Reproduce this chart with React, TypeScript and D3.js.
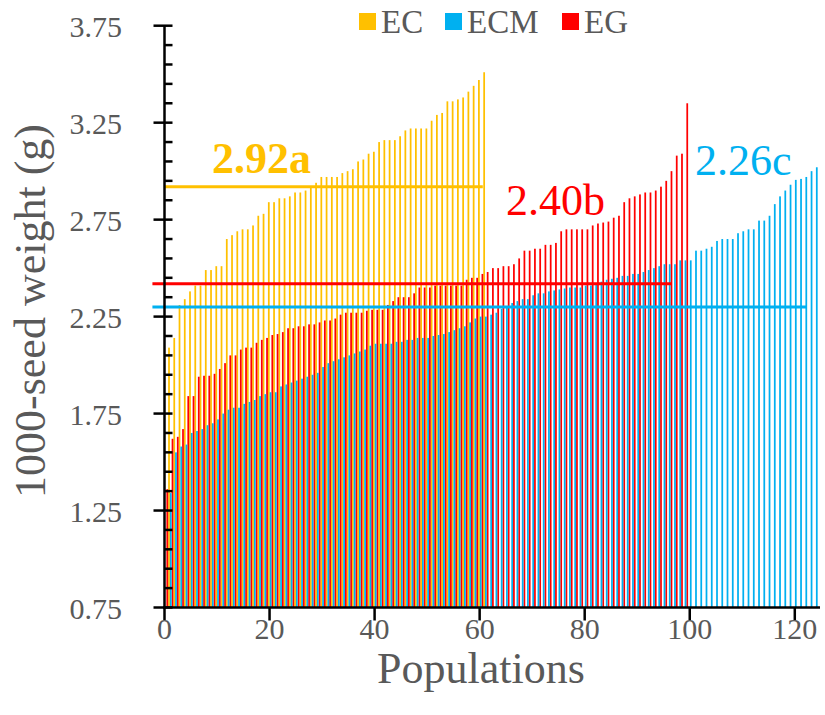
import React from "react";
import * as d3 from "d3";

const EC = [2.09, 2.14, 2.31, 2.34, 2.38, 2.41, 2.41, 2.49, 2.49, 2.51, 2.51, 2.65, 2.67, 2.69, 2.70, 2.70, 2.72, 2.77, 2.78, 2.84, 2.84, 2.86, 2.86, 2.87, 2.89, 2.89, 2.90, 2.92, 2.94, 2.97, 2.97, 2.97, 2.97, 2.99, 3.00, 3.01, 3.05, 3.06, 3.09, 3.10, 3.15, 3.16, 3.16, 3.16, 3.18, 3.21, 3.22, 3.22, 3.22, 3.22, 3.26, 3.29, 3.30, 3.36, 3.36, 3.37, 3.38, 3.41, 3.44, 3.47, 3.51];

const EG = [1.36, 1.62, 1.63, 1.67, 1.84, 1.84, 1.94, 1.945, 1.945, 1.955, 1.98, 2.01, 2.05, 2.05, 2.08, 2.09, 2.09, 2.115, 2.13, 2.14, 2.155, 2.16, 2.17, 2.19, 2.19, 2.20, 2.20, 2.21, 2.21, 2.22, 2.23, 2.23, 2.24, 2.26, 2.27, 2.27, 2.27, 2.27, 2.28, 2.285, 2.285, 2.285, 2.31, 2.33, 2.35, 2.35, 2.35, 2.37, 2.40, 2.40, 2.40, 2.41, 2.41, 2.41, 2.41, 2.41, 2.41, 2.44, 2.45, 2.45, 2.47, 2.48, 2.50, 2.50, 2.51, 2.51, 2.52, 2.55, 2.59, 2.59, 2.60, 2.60, 2.62, 2.62, 2.63, 2.69, 2.70, 2.70, 2.70, 2.70, 2.70, 2.72, 2.73, 2.735, 2.74, 2.76, 2.77, 2.84, 2.86, 2.87, 2.88, 2.89, 2.89, 2.90, 2.92, 2.95, 3.00, 3.08, 3.09, 3.35];

const ECM = [1.34, 1.55, 1.58, 1.59, 1.65, 1.66, 1.67, 1.69, 1.70, 1.72, 1.75, 1.77, 1.78, 1.78, 1.80, 1.81, 1.82, 1.84, 1.85, 1.86, 1.86, 1.89, 1.90, 1.91, 1.92, 1.93, 1.94, 1.95, 1.96, 1.99, 2.01, 2.02, 2.03, 2.04, 2.05, 2.06, 2.07, 2.08, 2.10, 2.11, 2.11, 2.11, 2.11, 2.12, 2.12, 2.13, 2.13, 2.14, 2.14, 2.14, 2.15, 2.155, 2.16, 2.17, 2.18, 2.19, 2.20, 2.22, 2.24, 2.25, 2.25, 2.26, 2.27, 2.29, 2.30, 2.32, 2.33, 2.34, 2.34, 2.36, 2.37, 2.37, 2.38, 2.385, 2.39, 2.395, 2.40, 2.40, 2.40, 2.41, 2.41, 2.42, 2.43, 2.44, 2.445, 2.45, 2.46, 2.46, 2.47, 2.47, 2.48, 2.49, 2.50, 2.51, 2.52, 2.52, 2.52, 2.54, 2.54, 2.54, 2.59, 2.59, 2.60, 2.61, 2.64, 2.65, 2.65, 2.65, 2.68, 2.69, 2.70, 2.70, 2.745, 2.745, 2.77, 2.83, 2.87, 2.90, 2.93, 2.955, 2.96, 2.97, 3.00, 3.02];

const SERIES_NAMES = ["EC", "ECM", "EG"];
const SERIES_COLORS = ["#FFC000", "#00B0F0", "#FF0000"];

const MEAN_VALUES = [2.92, 2.30, 2.42];
const MEAN_LABELS = ["2.92a", "2.26c", "2.40b"];
const MEAN_START = [0, -2.3, -2.3];
const MEAN_END = [60.6, 122.3, 96.6];

const Y_MAJOR = [0.75, 1.25, 1.75, 2.25, 2.75, 3.25, 3.75];
const X_TICKS = [0, 20, 40, 60, 80, 100, 120];

const FONT = "'Liberation Serif', 'Times New Roman', serif";
const GRAY = "#595959";

export default function App() {
  const W = 825, H = 715;
  const x = d3.scaleLinear().domain([0, 124.8]).range([164.5, 820]);
  const y = d3.scaleLinear().domain([0.75, 3.75]).range([607.5, 25.7]);
  const bw = 1.75;
  const y0 = y(0.75);

  const minor = d3.range(0.85, 3.75, 0.1).filter(v => !Y_MAJOR.some(m => Math.abs(m - v) < 1e-6));

  const bars = (data: number[], off: number, color: string, key: string) =>
    data.map((v, i) => (
      <rect key={key + i} x={x(i + 1) + off - bw / 2} y={y(v)} width={bw} height={y0 - y(v)} fill={color} />
    ));

  const offsets = [-0.75, 1.0, -2.5];
  const axisX = x(0);
  const legendX = [359, 445, 562];
  const labelPos = [
    { x: 212, y: 173, weight: "bold" },
    { x: 695, y: 175, weight: "normal" },
    { x: 506, y: 215, weight: "normal" },
  ];

  return (
    <svg width={W} height={H} style={{ position: "absolute", left: 0, top: 0, background: "#fff" }}>
      <rect x={0} y={0} width={W} height={H} fill="#fff" />
      {bars(EC, offsets[0], SERIES_COLORS[0], "ec")}
      {bars(EG, offsets[2], SERIES_COLORS[2], "eg")}
      {bars(ECM, offsets[1], SERIES_COLORS[1], "ecm")}

      {[0, 2, 1].map(k => (
        <line key={"m" + k} x1={x(MEAN_START[k])} x2={x(MEAN_END[k])} y1={y(MEAN_VALUES[k])} y2={y(MEAN_VALUES[k])}
          stroke={SERIES_COLORS[k]} strokeWidth={3} />
      ))}

      <line x1={axisX} x2={axisX} y1={y(3.75)} y2={y0 + 1.2} stroke="#000" strokeWidth={2.5} />
      <line x1={axisX - 1.2} x2={820} y1={y0} y2={y0} stroke="#000" strokeWidth={2.5} />
      {Y_MAJOR.map(v => (
        <g key={"ym" + v}>
          <line x1={axisX - 11} x2={axisX + 8} y1={y(v)} y2={y(v)} stroke="#000" strokeWidth={2.5} />
          <text x={122} y={y(v) + 11} textAnchor="end" fontFamily={FONT} fontSize={30} fill={GRAY}>{v.toFixed(2)}</text>
        </g>
      ))}
      {minor.map(v => (
        <line key={"yn" + v.toFixed(2)} x1={axisX} x2={axisX + 8} y1={y(v)} y2={y(v)} stroke="#000" strokeWidth={2.5} />
      ))}
      {X_TICKS.map(t => (
        <g key={"xt" + t}>
          <line x1={x(t)} x2={x(t)} y1={y0} y2={y0 + 13} stroke="#000" strokeWidth={2.5} />
          <text x={x(t)} y={639} textAnchor="middle" fontFamily={FONT} fontSize={30} fill={GRAY}>{t}</text>
        </g>
      ))}

      <text x={481} y={683} textAnchor="middle" fontFamily={FONT} fontSize={44} fill={GRAY}>Populations</text>
      <text transform={`translate(45, 311) rotate(-90)`} textAnchor="middle" fontFamily={FONT} fontSize={44} fill={GRAY}>1000-seed weight (g)</text>

      {[0, 1, 2].map(k => (
        <text key={"lab" + k} x={labelPos[k].x} y={labelPos[k].y} fontFamily={FONT} fontSize={44}
          fontWeight={labelPos[k].weight} fill={SERIES_COLORS[k]}>{MEAN_LABELS[k]}</text>
      ))}

      {SERIES_NAMES.map((n, k) => (
        <g key={"lg" + n}>
          <rect x={legendX[k]} y={13} width={17} height={17} fill={SERIES_COLORS[k]} />
          <text x={legendX[k] + 22} y={33} fontFamily={FONT} fontSize={33} fill={GRAY}>{n}</text>
        </g>
      ))}
    </svg>
  );
}
